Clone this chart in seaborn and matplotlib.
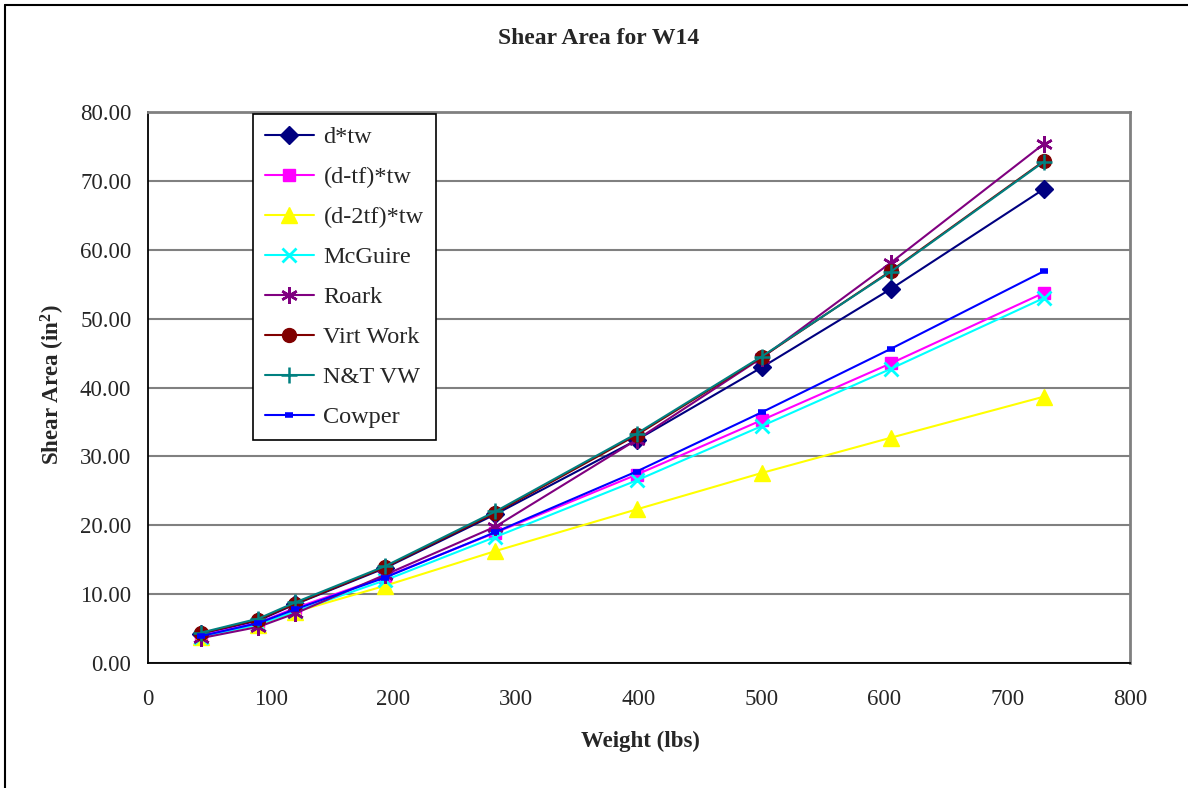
import matplotlib
matplotlib.use("Agg")
import matplotlib.pyplot as plt
from matplotlib.lines import Line2D
import seaborn as sns
import pandas as pd

weights = [43, 90, 120, 193, 283, 398, 500, 605, 730]

d_tw = [4.17, 6.17, 8.54, 13.78, 21.59, 32.37, 42.92, 54.29, 68.83]
d_tf_tw = [3.99, 5.86, 7.99, 12.50, 18.92, 27.34, 35.26, 43.49, 53.76]
d_2tf_tw = [3.84, 5.54, 7.43, 11.21, 16.25, 22.30, 27.59, 32.70, 38.68]
mcguire = [3.80, 5.60, 7.50, 12.00, 18.30, 26.50, 34.40, 42.70, 53.00]
roark = [3.60, 5.25, 7.20, 12.80, 19.80, 32.40, 44.30, 58.10, 75.40]
virt_work = [4.30, 6.30, 8.60, 13.90, 21.80, 33.10, 44.40, 56.90, 72.90]
nt_vw = [4.40, 6.45, 8.80, 14.05, 22.00, 33.30, 44.50, 56.80, 72.80]
cowper = [3.90, 5.80, 7.80, 12.40, 19.00, 27.80, 36.40, 45.60, 56.90]

series_names = ["d*tw", "(d-tf)*tw", "(d-2tf)*tw", "McGuire", "Roark",
                "Virt Work", "N&T VW", "Cowper"]
series_values = [d_tw, d_tf_tw, d_2tf_tw, mcguire, roark, virt_work, nt_vw, cowper]

title_text = "Shear Area for W14"
xlabel_text = "Weight (lbs)"
ylabel_text = r"Shear Area (in$^{\mathbf{2}}$)"
xticks = [0, 100, 200, 300, 400, 500, 600, 700, 800]
yticks = [0, 10, 20, 30, 40, 50, 60, 70, 80]

styles = {
    "d*tw": dict(color="#000080", marker="D", ms=9, mew=1),
    "(d-tf)*tw": dict(color="#FF00FF", marker="s", ms=9, mew=1),
    "(d-2tf)*tw": dict(color="#FFFF00", marker="^", ms=11, mew=1),
    "McGuire": dict(color="#00FFFF", marker="x", ms=10, mew=2),
    "Roark": dict(color="#800080", marker=(6, 2, 0), ms=12, mew=1.8),
    "Virt Work": dict(color="#800000", marker="o", ms=10, mew=1),
    "N&T VW": dict(color="#008080", marker="+", ms=11, mew=1.8),
    "Cowper": dict(color="#0000FF", marker="_", ms=6, mew=4),
}

sns.set_theme(style="white")
plt.rcParams["font.family"] = ["Liberation Serif", "DejaVu Serif"]
plt.rcParams["mathtext.fontset"] = "custom"
plt.rcParams["mathtext.rm"] = "Liberation Serif"
plt.rcParams["mathtext.bf"] = "Liberation Serif:bold"
plt.rcParams["mathtext.it"] = "Liberation Serif:italic"

fig = plt.figure(figsize=(11.88, 7.88), dpi=100)
ax = fig.add_axes([148 / 1188, 1 - 663 / 788, 982 / 1188, 551 / 788])

rows = []
for name, vals in zip(series_names, series_values):
    for w, v in zip(weights, vals):
        rows.append({"Weight": w, "Area": v, "Series": name})
df = pd.DataFrame(rows)

handles = []
for name in series_names:
    st = styles[name]
    sub = df[df["Series"] == name]
    sns.lineplot(data=sub, x="Weight", y="Area", ax=ax, color=st["color"],
                 marker=st["marker"], markersize=st["ms"],
                 markeredgewidth=st["mew"], markeredgecolor=st["color"],
                 markerfacecolor=st["color"], linewidth=1.5, legend=False,
                 zorder=3)
    handles.append(Line2D([0], [0], color=st["color"], marker=st["marker"],
                          markersize=st["ms"], markeredgewidth=st["mew"],
                          markeredgecolor=st["color"], markerfacecolor=st["color"],
                          linewidth=1.5))

ax.set_xlim(0, 800)
ax.set_ylim(0, 80)
ax.set_xticks(xticks)
ax.set_yticks(yticks)
ax.set_xticklabels([str(t) for t in xticks], fontsize=16.5)
ax.set_yticklabels([f"{t:.2f}" for t in yticks], fontsize=16.5)
ax.tick_params(axis="both", direction="out", length=6, width=1.2, color="black")
ax.tick_params(axis="x", pad=13)
ax.tick_params(axis="y", pad=6)
ax.yaxis.grid(True, color="#808080", linewidth=1.5)
ax.xaxis.grid(False)
ax.set_axisbelow(True)
for side in ["left", "bottom"]:
    ax.spines[side].set_color("black")
    ax.spines[side].set_linewidth(1.3)
for side in ["top", "right"]:
    ax.spines[side].set_color("#808080")
    ax.spines[side].set_linewidth(2.0)
ax.set_xlabel("")
ax.set_ylabel("")

fig.text(599 / 1188, 1 - 38 / 788, title_text, ha="center", va="center",
         fontsize=17, fontweight="bold")
fig.text(640 / 1188, 1 - 741 / 788, xlabel_text, ha="center", va="center",
         fontsize=16.5, fontweight="bold")
fig.text(53 / 1188, 1 - 385 / 788, ylabel_text, ha="center", va="center",
         fontsize=16.5, fontweight="bold", rotation=90)

leg = ax.legend(handles, series_names, loc="upper left",
                bbox_to_anchor=(105 / 982, 549 / 551), borderaxespad=0,
                fontsize=17.5, frameon=True, fancybox=False, handlelength=2.0,
                handletextpad=0.4, labelspacing=0.74, borderpad=0.5)
leg.get_frame().set_edgecolor("black")
leg.get_frame().set_linewidth(1.2)
leg.get_frame().set_facecolor("white")
leg.get_frame().set_alpha(1)

fig.add_artist(Line2D([5 / 1188, 5 / 1188], [-0.01, 1 - 4.5 / 788],
                      transform=fig.transFigure, color="black", linewidth=1.5))
fig.add_artist(Line2D([5 / 1188, 1.01], [1 - 4.5 / 788, 1 - 4.5 / 788],
                      transform=fig.transFigure, color="black", linewidth=1.5))

fig.savefig("out.png", dpi=100)
